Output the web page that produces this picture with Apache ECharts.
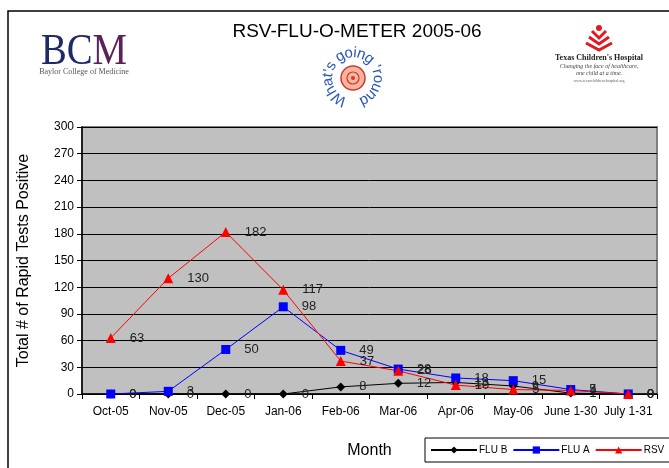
<!DOCTYPE html>
<html>
<head>
<meta charset="utf-8">
<script src="https://cdn.jsdelivr.net/npm/echarts@6/dist/echarts.min.js"></script>
<style>
  html, body { margin: 0; padding: 0; background: #fff; }
  #chart { width: 669px; height: 468px; }
</style>
</head>
<body>
<div id="chart"></div>
<script>
// RSV-FLU-O-METER 2005-06 — 三条折线 + 页眉 logo

const MONTHS = ['Oct-05', 'Nov-05', 'Dec-05', 'Jan-06', 'Feb-06', 'Mar-06', 'Apr-06', 'May-06', 'June 1-30', 'July 1-31'];
const FLU_B = [0, 0, 0, 0, 8, 12, 13, 9, 1, 0];
const FLU_A = [0, 3, 50, 98, 49, 28, 18, 15, 5, 0];
const RSV = [63, 130, 182, 117, 37, 26, 10, 5, 4, 0];
const Y_TICKS = [0, 30, 60, 90, 120, 150, 180, 210, 240, 270, 300];

const FONT = 'Liberation Sans, Arial, sans-serif';
const SERIF = 'Liberation Serif, Times New Roman, serif';

const $ = (id) => document.getElementById(id);

function lineSeries(name, data, color, symbol, size) {
  return {
    name,
    type: 'line',
    data,
    symbol,
    symbolSize: size,
    itemStyle: { color },
    lineStyle: { color, width: 1 },
    label: {
      show: true,
      position: 'right',
      distance: 14,
      color: '#222',
      fontFamily: FONT,
      fontSize: 13,
    },
    z: 3,
  };
}

// "What's going 'round" 沿圆排字, 按字宽分配角度, 居中在正上方
function ringText(cx, cy, r, text, font) {
  const ctx = document.createElement('canvas').getContext('2d');
  ctx.font = font;
  const chars = text.split('');
  const widths = chars.map(ch => ctx.measureText(ch).width + 0.6);
  const total = widths.reduce((a, b) => a + b, 0);
  let acc = -total / 2;
  return chars.map((ch, i) => {
    const mid = acc + widths[i] / 2;
    acc += widths[i];
    const rad = mid / r;
    return {
      type: 'text',
      x: cx + r * Math.sin(rad),
      y: cy - r * Math.cos(rad),
      rotation: -rad,
      style: {
        text: ch, fill: '#2a55b8', font,
        align: 'center', verticalAlign: 'middle',
      },
    };
  });
}

function headerGraphics() {
  const g = [];
  // 外框
  g.push({ type: 'rect', shape: { x: 8, y: 11, width: 720, height: 520 },
    style: { fill: 'none', stroke: '#000', lineWidth: 1.5 }, z: -1 });
  // 标题
  g.push({ type: 'text', x: 357, y: 32,
    style: { text: 'RSV-FLU-O-METER 2005-06', font: '19px ' + FONT, fill: '#000', align: 'center', verticalAlign: 'middle' } });
  // BCM logo
  g.push({ type: 'text', x: 84, y: 52, scaleX: 0.86,
    style: { text: '{a|BC}{b|M}', align: 'center', verticalAlign: 'middle',
      rich: {
        a: { font: '45px ' + SERIF, fill: '#1d2a66' },
        b: { font: '45px ' + SERIF, fill: '#5a2255' },
      } } });
  g.push({ type: 'text', x: 84, y: 72,
    style: { text: 'Baylor College of Medicine', font: '8px ' + SERIF, fill: '#555', align: 'center', verticalAlign: 'middle' } });
  // 圆形 logo
  const cx = 353, cy = 78;
  g.push(...ringText(cx, cy, 25, "What's going 'round", '15px ' + FONT));
  g.push({ type: 'circle', shape: { cx, cy, r: 12 }, style: { fill: '#f3b79f', stroke: '#d9342b', lineWidth: 1.5 } });
  g.push({ type: 'circle', shape: { cx, cy, r: 6 }, style: { fill: 'none', stroke: '#d9342b', lineWidth: 1.2 } });
  g.push({ type: 'circle', shape: { cx, cy, r: 2 }, style: { fill: '#d9342b' } });
  // Texas Children's Hospital logo
  g.push({ type: 'circle', shape: { cx: 599, cy: 28, r: 3 }, style: { fill: '#e01a22' } });
  [[36, 7], [42, 10], [48, 13]].forEach(([y, w]) => {
    g.push({ type: 'polyline', shape: { points: [[599 - w, y - 5], [599, y + 2], [599 + w, y - 5]] },
      style: { stroke: '#e01a22', lineWidth: 3, fill: 'none' } });
  });
  g.push({ type: 'text', x: 599, y: 58,
    style: { text: "Texas Children's Hospital", font: 'bold 8px ' + SERIF, fill: '#222', align: 'center', verticalAlign: 'middle' } });
  g.push({ type: 'text', x: 599, y: 66,
    style: { text: 'Changing the face of healthcare,', font: 'italic 6px ' + SERIF, fill: '#444', align: 'center', verticalAlign: 'middle' } });
  g.push({ type: 'text', x: 599, y: 73,
    style: { text: 'one child at a time.', font: 'italic 6px ' + SERIF, fill: '#444', align: 'center', verticalAlign: 'middle' } });
  g.push({ type: 'text', x: 599, y: 81,
    style: { text: 'www.texaschildrenshospital.org', font: '4px ' + SERIF, fill: '#666', align: 'center', verticalAlign: 'middle' } });
  return g;
}

const chart = echarts.init($('chart'), null, { renderer: 'canvas' });

chart.setOption({
  animation: false,
  backgroundColor: '#fff',
  textStyle: { fontFamily: FONT },
  grid: {
    left: 82, right: 12, top: 127, bottom: 74,
    show: true, backgroundColor: '#c0c0c0',
    borderColor: '#808080', borderWidth: 2,
  },
  graphic: headerGraphics(),
  legend: {
    left: 425, top: 438, width: 320,
    orient: 'horizontal',
    itemWidth: 46, itemHeight: 9, itemGap: 5,
    padding: [7, 20, 7, 5],
    borderColor: '#000', borderWidth: 1,
    backgroundColor: '#fff',
    textStyle: { fontFamily: FONT, fontSize: 10, color: '#000', padding: [0, 0, 0, -3] },
    data: ['FLU B', 'FLU A', 'RSV'],
  },
  xAxis: {
    type: 'category',
    data: MONTHS,
    boundaryGap: true,
    name: 'Month',
    nameLocation: 'middle',
    nameGap: 49,
    nameTextStyle: { fontFamily: FONT, fontSize: 16, color: '#000' },
    axisLine: { lineStyle: { color: '#000', width: 1.5 } },
    axisTick: { show: true, alignWithLabel: false, length: 5, lineStyle: { color: '#000' } },
    axisLabel: { color: '#000', fontFamily: FONT, fontSize: 12, margin: 12, interval: 0 },
    splitLine: { show: false },
  },
  yAxis: {
    type: 'value',
    min: Y_TICKS[0],
    max: Y_TICKS[Y_TICKS.length - 1],
    interval: Y_TICKS[1] - Y_TICKS[0],
    name: 'Total # of Rapid Tests Positive',
    nameLocation: 'middle',
    nameGap: 50,
    nameTextStyle: { fontFamily: FONT, fontSize: 16, color: '#000' },
    axisLine: { show: true, lineStyle: { color: '#000', width: 1.5 } },
    axisTick: { show: true, length: 5, lineStyle: { color: '#000' } },
    axisLabel: { color: '#000', fontFamily: FONT, fontSize: 12, margin: 8 },
    splitLine: { show: true, lineStyle: { color: '#000', width: 1 } },
  },
  series: [
    lineSeries('FLU B', FLU_B, '#000000', 'diamond', 9),
    lineSeries('FLU A', FLU_A, '#0000ff', 'rect', 9),
    lineSeries('RSV', RSV, '#ff0000', 'triangle', 10),
  ],
});
</script>
</body>
</html>
